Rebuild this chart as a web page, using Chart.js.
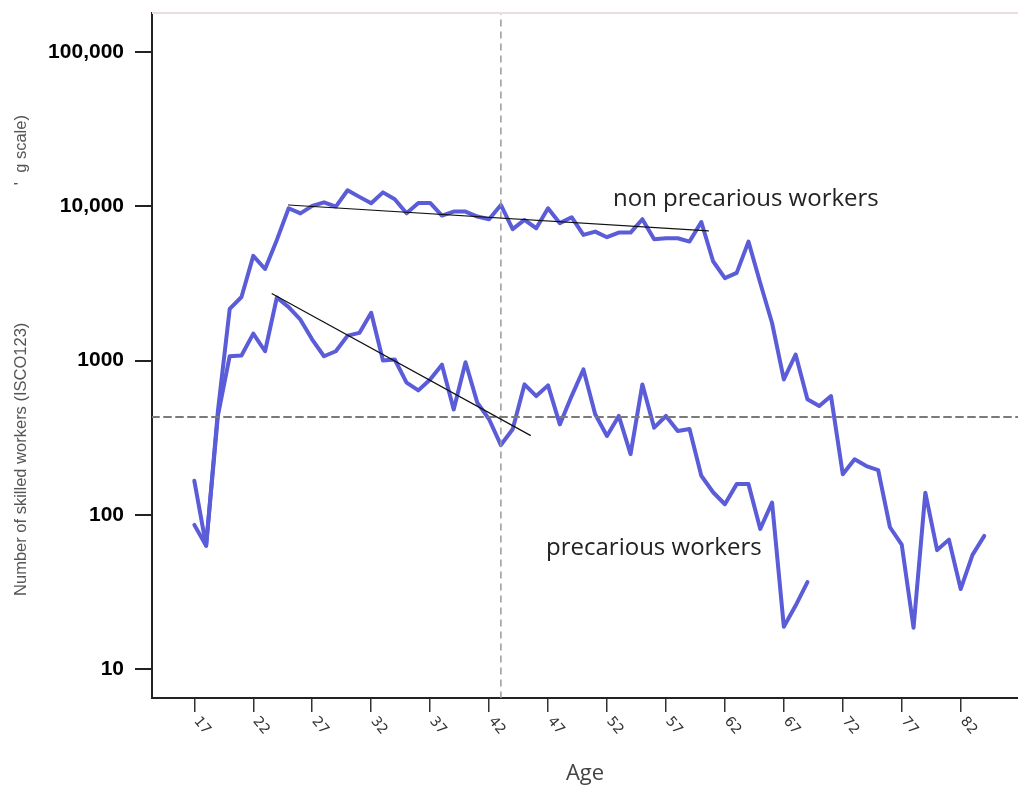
<!DOCTYPE html>
<html><head><meta charset="utf-8">
<script src="https://cdn.jsdelivr.net/npm/chart.js@4.4.1/dist/chart.umd.min.js"></script>
<style>html,body{margin:0;padding:0;background:#fff;}#wrap{width:1018px;height:787px;}</style>
</head><body><div id="wrap"><canvas id="c" width="1018" height="787"></canvas></div>
<script>
// ---- data ----
const nonPrecariousAges = [17,18,19,20,21,22,23,24,25,26,27,28,29,30,31,32,33,34,35,36,37,38,39,40,41,42,43,44,45,46,47,48,49,50,51,52,53,54,55,56,57,58,59,60,61,62,63,64,65,66,67,68,69,70,71,72,73,74,75,76,77,78,79,80,81,82,83,84];
const nonPrecariousValues = [166,63,470,2160,2580,4770,3920,6050,9700,8990,10050,10600,9950,12700,11500,10450,12300,11100,9000,10500,10500,8700,9230,9230,8570,8240,10190,7100,8150,7200,9700,7770,8490,6520,6850,6300,6750,6750,8240,6110,6200,6200,5900,7900,4400,3420,3700,5900,3180,1750,754,1094,560,507,588,183,229,207,195,83,64,18.5,139,59,69,33,55,73];
const precariousAges = [17,18,19,20,21,22,23,24,25,26,27,28,29,30,31,32,33,34,35,36,37,38,39,40,41,42,43,44,45,46,47,48,49,50,51,52,53,54,55,56,57,58,59,60,61,62,63,64,65,66,67,68,69];
const precariousValues = [86,63,440,1066,1077,1494,1148,2560,2220,1840,1366,1066,1148,1450,1510,2040,1000,1015,718,640,754,940,482,975,533,416,283,358,700,588,690,385,588,875,448,324,437,247,700,367,437,349,360,179,140,117,158,158,81,120,18.8,25.8,36.6];
const nonPrecTrendAges = [25.0, 60.6];
const nonPrecTrendValues = [10190, 6920];
const precTrendAges = [23.6, 45.5];
const precTrendValues = [2710, 327];
const refAge = 43;
const refValue = 430;
const xTicks = [17,22,27,32,37,42,47,52,57,62,67,72,77,82];
const xTickLabels = ['17','22','27','32','37','42','47','52','57','62','67','72','77','82'];
const yTicks = [10,100,1000,10000,100000];
const yTickLabels = ['10','100','1000','10,000','100,000'];
const xMin = 13.41, xMax = 86.86, yMin = 6.49, yMax = 178900;
const xTitle = 'Age';
const yTitle = 'Number of skilled workers (ISCO123)' + ' '.repeat(30) + "'" + '  g scale)';
const annotationTexts = ['non precarious workers', 'precarious workers'];
const annotationAges = [52.51, 46.83];
const annotationValues = [10040, 54.8];

const toXY = (xs, ys) => xs.map((a, i) => ({x: a, y: ys[i]}));
const blue = '#5a5cd8';

const annotPlugin = {
  id: 'annot',
  afterDraw(chart) {
    const {ctx, chartArea, scales: {x, y}} = chart;
    ctx.save();
    ctx.strokeStyle = '#eadcdf'; ctx.lineWidth = 2;
    ctx.beginPath(); ctx.moveTo(chartArea.left, chartArea.top); ctx.lineTo(chartArea.right, chartArea.top); ctx.stroke();
    ctx.fillStyle = '#333'; ctx.font = '14px "DejaVu Sans"'; ctx.textAlign = 'left'; ctx.textBaseline = 'middle';
    xTicks.forEach((v, i) => {
      const px = x.getPixelForValue(v);
      ctx.save(); ctx.translate(px + 2, x.top + 21); ctx.rotate(50 * Math.PI / 180);
      ctx.fillText(xTickLabels[i], 0, 0); ctx.restore();
    });
    ctx.font = '24px "Open Sans"'; ctx.fillStyle = '#222'; ctx.textBaseline = 'alphabetic';
    annotationTexts.forEach((t, i) => {
      ctx.fillText(t, x.getPixelForValue(annotationAges[i]), y.getPixelForValue(annotationValues[i]));
    });
    ctx.restore();
  }
};

new Chart(document.getElementById('c'), {
  type: 'line',
  data: {
    datasets: [
      {data: toXY(nonPrecTrendAges, nonPrecTrendValues), borderColor: '#111', borderWidth: 1.2, order: 0},
      {data: toXY(precTrendAges, precTrendValues), borderColor: '#111', borderWidth: 1.2, order: 0},
      {data: toXY([xMin, xMax], [refValue, refValue]), borderColor: '#7a7a7a', borderWidth: 2, borderDash: [7, 5], order: 1},
      {data: toXY([refAge, refAge], [yMin, yMax]), borderColor: '#9a9a9a', borderWidth: 1.5, borderDash: [6, 6], order: 1},
      {data: toXY(nonPrecariousAges, nonPrecariousValues), borderColor: blue, borderWidth: 4, order: 2},
      {data: toXY(precariousAges, precariousValues), borderColor: blue, borderWidth: 4, order: 2}
    ]
  },
  options: {
    responsive: false, animation: false, devicePixelRatio: 1,
    layout: {padding: {left: 0, top: 13, right: 0, bottom: 0}},
    plugins: {legend: {display: false}, tooltip: {enabled: false}},
    elements: {point: {radius: 0}, line: {tension: 0, borderJoinStyle: 'round', borderCapStyle: 'round'}},
    scales: {
      x: {
        type: 'linear', min: xMin, max: xMax,
        afterBuildTicks: s => { s.ticks = xTicks.map(v => ({value: v})); },
        afterFit: s => { s.height = 89; s.paddingLeft = 0; s.paddingRight = 0; },
        grid: {drawOnChartArea: false, drawTicks: true, tickLength: 14, color: '#333', lineWidth: 1.5},
        border: {display: true, color: '#222', width: 2},
        ticks: {display: false},
        title: {display: true, text: xTitle, color: '#444', font: {family: 'Open Sans', size: 22}, padding: {top: 0, bottom: 0}}
      },
      y: {
        type: 'logarithmic', min: yMin, max: yMax,
        afterBuildTicks: s => { s.ticks = yTicks.map(v => ({value: v})); },
        afterFit: s => { s.width = 152; s.paddingTop = 0; s.paddingBottom = 0; },
        grid: {drawOnChartArea: false, drawTicks: true, tickLength: 17, color: '#222', lineWidth: 2},
        border: {display: true, color: '#222', width: 2},
        ticks: {padding: 11, color: '#000', font: {family: 'Liberation Sans', size: 21, weight: 'bold'}, callback: (v, i) => yTickLabels[i]},
        title: {display: true, text: yTitle, color: '#555', font: {family: 'Liberation Sans', size: 16.5}, padding: {top: 12, bottom: 0}}
      }
    }
  },
  plugins: [annotPlugin]
});
</script></body></html>
